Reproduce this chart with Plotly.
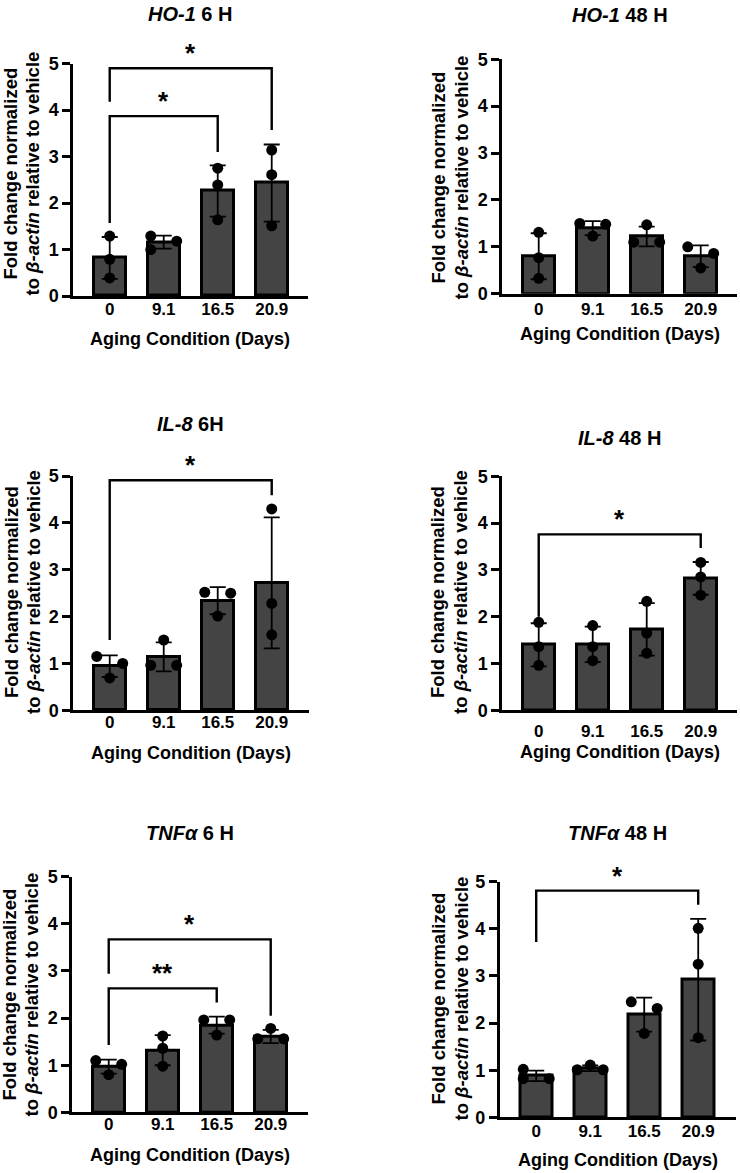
import plotly.graph_objects as go

W, H = 740, 1173
# The photographed page keeps an 8 px top/bottom body margin and is then fitted
# back into 1173 px of height; target positions are converted accordingly.
PAGE_H = H + 16
OFF_Y = 8
FONT = "Liberation Sans, Arial, sans-serif"

CATEGORIES = ["0", "9.1", "16.5", "20.9"]

# ---------------- data ----------------
HO1_6H_MEAN = [0.82, 1.16, 2.26, 2.43]
HO1_6H_SD = [0.45, 0.14, 0.55, 0.83]
HO1_6H_POINTS = [[1.29, 0.79, 0.39], [1.29, 1.00, 1.18], [2.75, 2.39, 1.64], [3.14, 2.61, 1.51]]
HO1_6H_SIDE = [[0, 0, 0], [-1, -1, 1], [0, 0, 0], [0, 0, 0]]
HO1_6H_SIG = [(0, 2, 3.87, 1.57, 3.10, "*"), (0, 3, 4.90, 4.18, 3.57, "*")]

HO1_48H_MEAN = [0.80, 1.40, 1.22, 0.80]
HO1_48H_SD = [0.49, 0.15, 0.21, 0.23]
HO1_48H_POINTS = [[1.31, 0.77, 0.33], [1.50, 1.48, 1.23], [1.47, 1.10, 1.10], [1.00, 0.86, 0.55]]
HO1_48H_SIDE = [[0, 0, 0], [-1, 1, 0], [0, -1, 1], [-1, 1, 0]]
HO1_48H_SIG = []

IL8_6H_MEAN = [0.94, 1.14, 2.34, 2.72]
IL8_6H_SD = [0.23, 0.31, 0.29, 1.40]
IL8_6H_POINTS = [[1.15, 1.00, 0.69], [1.50, 0.96, 0.96], [2.52, 2.50, 2.01], [4.30, 2.28, 1.61]]
IL8_6H_SIDE = [[-1, 1, 0], [0, -1, 1], [-1, 1, 0], [0, 0, 0]]
IL8_6H_SIG = [(0, 3, 4.91, 1.50, 4.59, "*")]

IL8_48H_MEAN = [1.40, 1.41, 1.73, 2.82]
IL8_48H_SD = [0.46, 0.38, 0.56, 0.35]
IL8_48H_POINTS = [[1.88, 1.36, 0.96], [1.81, 1.36, 1.06], [2.33, 1.65, 1.22], [3.16, 2.85, 2.46]]
IL8_48H_SIDE = [[0, 0, 0], [0, 0, 0], [0, 0, 0], [0, 0, 0]]
IL8_48H_SIG = [(0, 3, 3.76, 2.00, 3.47, "*")]

TNF_6H_MEAN = [0.97, 1.32, 1.85, 1.61]
TNF_6H_SD = [0.15, 0.32, 0.18, 0.14]
TNF_6H_POINTS = [[1.10, 1.02, 0.80], [1.62, 1.36, 0.98], [1.96, 1.96, 1.64], [1.78, 1.56, 1.56]]
TNF_6H_SIDE = [[-1, 1, 0], [0, 0, 0], [-1, 1, 0], [0, -1, 1]]
TNF_6H_SIG = [(0, 2, 2.63, 1.43, 2.33, "**"), (0, 3, 3.67, 2.94, 2.05, "*")]

TNF_48H_MEAN = [0.88, 1.04, 2.18, 2.92]
TNF_48H_SD = [0.11, 0.06, 0.36, 1.29]
TNF_48H_POINTS = [[1.02, 0.82, 0.82], [1.11, 1.01, 1.01], [2.45, 2.31, 1.78], [4.01, 3.25, 1.69]]
TNF_48H_SIDE = [[-1, -1, 1], [0, -1, 1], [-1, 1, 0], [0, 0, 0]]
TNF_48H_SIG = [(0, 3, 4.81, 3.72, 4.51, "*")]

TITLES = ["<i>HO-1</i> 6 H", "<i>HO-1</i> 48 H", "<i>IL-8</i> 6H",
          "<i>IL-8</i> 48 H", "<i>TNFα</i> 6 H", "<i>TNFα</i> 48 H"]
Y_TITLE_1 = "Fold change normalized"
Y_TITLE_2 = "to <i>β-actin</i> relative to vehicle"
X_TITLE = "Aging Condition (Days)"

# ---------------- layout geometry (target pixels) ----------------
GEOM = [
    dict(x0=73, x1=308, y5=61.7, y0=295.0, ty=12, xty=338, yt1=11, yt2=33, yty=172, ts=-4),
    dict(x0=502, x1=737, y5=57.3, y0=292.7, ty=13, xty=333, yt1=438, yt2=461, yty=176, ts=-2),
    dict(x0=73, x1=309, y5=475.7, y0=710.7, ty=423, xty=754, yt1=12, yt2=34, yty=592, ts=-5),
    dict(x0=502, x1=737, y5=476.0, y0=710.7, ty=437, xty=753, yt1=438, yt2=461, yty=592, ts=4),
    dict(x0=72, x1=308, y5=877.7, y0=1114.3, ty=834, xty=1157, yt1=10, yt2=32, yty=996, ts=-6),
    dict(x0=499.5, x1=736, y5=882.7, y0=1119.3, ty=834, xty=1162, yt1=438, yt2=461, yty=1000, ts=-4),
]
X_START = -0.68      # category units left of the first bar where the axis starts
PX_PER_CAT = 54.0    # bar spacing in pixels

PANELS = [
    (HO1_6H_MEAN, HO1_6H_SD, HO1_6H_POINTS, HO1_6H_SIDE, HO1_6H_SIG),
    (HO1_48H_MEAN, HO1_48H_SD, HO1_48H_POINTS, HO1_48H_SIDE, HO1_48H_SIG),
    (IL8_6H_MEAN, IL8_6H_SD, IL8_6H_POINTS, IL8_6H_SIDE, IL8_6H_SIG),
    (IL8_48H_MEAN, IL8_48H_SD, IL8_48H_POINTS, IL8_48H_SIDE, IL8_48H_SIG),
    (TNF_6H_MEAN, TNF_6H_SD, TNF_6H_POINTS, TNF_6H_SIDE, TNF_6H_SIG),
    (TNF_48H_MEAN, TNF_48H_SD, TNF_48H_POINTS, TNF_48H_SIDE, TNF_48H_SIG),
]

SPREAD = 0.24
BAR_COLOR = "#444444"

fig = go.Figure()
annotations = []
layout_axes = {}


def px_x(x):
    return min(max(x / W, 0.0), 1.0)


def px_y(y):
    fy = y * PAGE_H / H - OFF_Y
    return min(max(1 - fy / H, 0.0), 1.0)


for i, ((mean, sd, pts, side, sig), g, title) in enumerate(zip(PANELS, GEOM, TITLES)):
    n = i + 1
    xa = "x" if n == 1 else f"x{n}"
    ya = "y" if n == 1 else f"y{n}"
    xkey = "xaxis" if n == 1 else f"xaxis{n}"
    ykey = "yaxis" if n == 1 else f"yaxis{n}"
    idx = list(range(len(CATEGORIES)))

    x1 = min(g["x1"], W)
    x_end = X_START + (x1 - g["x0"]) / PX_PER_CAT

    fig.add_trace(go.Bar(
        x=idx, y=mean, width=0.6, xaxis=xa, yaxis=ya,
        marker=dict(color=BAR_COLOR, line=dict(color="black", width=3)),
        error_y=dict(type="data", array=sd, symmetric=True, color="black",
                     thickness=1.8, width=8),
        showlegend=False, cliponaxis=False,
    ))
    px_, py_ = [], []
    for c, (vals, sides) in enumerate(zip(pts, side)):
        for v, s in zip(vals, sides):
            px_.append(c + s * SPREAD)
            py_.append(v)
    fig.add_trace(go.Scatter(
        x=px_, y=py_, mode="markers", xaxis=xa, yaxis=ya,
        marker=dict(color="black", size=11), showlegend=False, cliponaxis=False,
    ))
    for (a, b, top, fa, fb, lab) in sig:
        fig.add_trace(go.Scatter(
            x=[a, a, b, b], y=[fa, top, top, fb], mode="lines",
            xaxis=xa, yaxis=ya, line=dict(color="black", width=2.4),
            showlegend=False, cliponaxis=False, hoverinfo="skip",
        ))
        annotations.append(dict(
            x=(a + b) / 2, y=top, xref=xa, yref=ya, text=f"<b>{lab}</b>",
            showarrow=False, yanchor="bottom", yshift=-2,
            font=dict(family=FONT, size=26, color="black"),
        ))

    layout_axes[xkey] = dict(
        domain=[px_x(g["x0"]), px_x(x1)], range=[X_START, x_end],
        anchor=ya, showline=True, linecolor="black", linewidth=2.5,
        tickmode="array", tickvals=idx, ticktext=[f"<b>{c}</b>" for c in CATEGORIES],
        ticks="", showgrid=False, zeroline=False, ticklabelstandoff=g["ts"],
        tickfont=dict(family=FONT, size=17, color="black"), fixedrange=True,
    )
    layout_axes[ykey] = dict(
        domain=[px_y(g["y0"]), px_y(g["y5"])], range=[0, 5],
        anchor=xa, showline=True, linecolor="black", linewidth=2.5,
        tickmode="array", tickvals=[0, 1, 2, 3, 4, 5],
        ticktext=[f"<b>{v}</b>" for v in range(6)],
        ticks="outside", ticklen=8, tickwidth=2.5, tickcolor="black",
        showgrid=False, zeroline=False, ticklabelstandoff=0,
        tickfont=dict(family=FONT, size=18, color="black"), fixedrange=True,
    )

    cx = (g["x0"] + g["x1"]) / 2
    annotations.append(dict(
        x=px_x(cx), y=px_y(g["ty"]), xref="paper", yref="paper",
        text=f"<b>{title}</b>", showarrow=False, xanchor="center", yanchor="middle",
        font=dict(family=FONT, size=20, color="black"),
    ))
    annotations.append(dict(
        x=px_x(cx), y=px_y(g["xty"]), xref="paper", yref="paper",
        text=f"<b>{X_TITLE}</b>", showarrow=False, xanchor="center", yanchor="middle",
        font=dict(family=FONT, size=18, color="black"),
    ))
    for key, txt in (("yt1", Y_TITLE_1), ("yt2", Y_TITLE_2)):
        annotations.append(dict(
            x=px_x(g[key]), y=px_y(g["yty"]), xref="paper", yref="paper",
            text=f"<b>{txt}</b>", showarrow=False, xanchor="center", yanchor="middle",
            textangle=-90, font=dict(family=FONT, size=18.5, color="black"),
        ))

fig.update_layout(
    width=W, height=H, autosize=False,
    margin=dict(l=0, r=0, t=0, b=0, pad=0),
    paper_bgcolor="white", plot_bgcolor="white",
    annotations=annotations, bargap=0, **layout_axes,
)

fig.write_html("out.html", config={"displayModeBar": False})
